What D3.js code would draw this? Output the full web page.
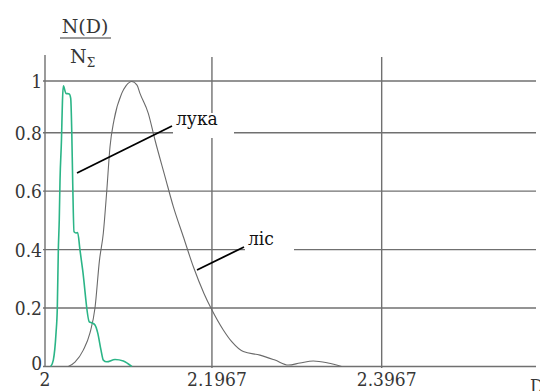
<!DOCTYPE html>
<html>
<head>
<meta charset="utf-8">
<script src="https://cdn.jsdelivr.net/npm/d3@7"></script>
<style>
  html, body { margin: 0; padding: 0; background: #fff; overflow: hidden; }
  svg { display: block; }
  .fc { font-family: "DejaVu Serif Condensed", "DejaVu Serif", serif; font-stretch: condensed; }
  .fs { font-family: "DejaVu Serif", serif; }
</style>
</head>
<body>
<svg id="chart" width="540" height="391"></svg>
<script>
// ---- data ----
const xTicks = [2, 2.1967, 2.3967];
const xTickLabels = ["2", "2.1967", "2.3967"];
const yTicks = [0, 0.2, 0.4, 0.6, 0.8, 1];
const yTickLabels = ["0", "0.2", "0.4", "0.6", "0.8", "1"];

// "лука" series (green)
const lukaD = [2.0067, 2.0098, 2.0130, 2.0145, 2.0157, 2.0168, 2.0177, 2.0194, 2.0206, 2.0216,
  2.0247, 2.0286, 2.0303, 2.0315, 2.0326, 2.0342, 2.0365, 2.0385, 2.0412, 2.0444,
  2.0522, 2.0554, 2.0589, 2.0621, 2.0660, 2.0687, 2.0727, 2.0825, 2.0923, 2.1022];
const lukaN = [0, 0.022, 0.115, 0.200, 0.399, 0.501, 0.638, 0.775, 0.926, 0.981,
  0.952, 0.950, 0.933, 0.809, 0.638, 0.461, 0.457, 0.458, 0.399, 0.330,
  0.153, 0.149, 0.142, 0.115, 0.056, 0.022, 0.016, 0.024, 0.019, 0];

// "ліс" series (gray)
const lisD = [2.0275, 2.0353, 2.0451, 2.0530, 2.0589, 2.0642, 2.0687, 2.0727, 2.0766, 2.0813,
  2.0904, 2.0954, 2.1022, 2.1084, 2.1119, 2.1217, 2.1296, 2.1414, 2.1512, 2.1630,
  2.1747, 2.1873, 2.1964, 2.2101, 2.2203, 2.2337, 2.2533, 2.2710, 2.2867, 2.3005,
  2.3161, 2.3335, 2.3496];
const lisN = [0, 0.015, 0.056, 0.115, 0.200, 0.364, 0.456, 0.598, 0.752, 0.849,
  0.952, 0.981, 0.998, 0.984, 0.952, 0.875, 0.775, 0.650, 0.547, 0.444,
  0.342, 0.250, 0.195, 0.125, 0.084, 0.051, 0.039, 0.022, 0.005, 0.012,
  0.019, 0.012, 0];

const seriesLabels = ["лука", "ліс"];

// ---- layout ----
const svg = d3.select("#chart");
const x = d3.scaleLinear().domain([2, 2.575]).range([45, 533]);
const y = d3.scaleLinear().domain([0, 0.8, 1]).range([366.5, 132.7, 81]);

const gridColor = "#707070";
const textColor = "#363636";

// horizontal gridlines
svg.append("g").selectAll("line").data(yTicks).join("line")
  .attr("x1", 43).attr("x2", 536)
  .attr("y1", d => y(d)).attr("y2", d => y(d))
  .attr("stroke", gridColor).attr("stroke-width", 1.4);

// vertical gridlines
svg.append("g").selectAll("line").data(xTicks.slice(1)).join("line")
  .attr("x1", d => x(d)).attr("x2", d => x(d))
  .attr("y1", 57).attr("y2", 368)
  .attr("stroke", gridColor).attr("stroke-width", 1.4);

// y axis line
svg.append("line").attr("x1", x(2)).attr("x2", x(2))
  .attr("y1", 55).attr("y2", y(0))
  .attr("stroke", gridColor).attr("stroke-width", 1.4);

// white boxes behind labels (gaps in grid)
svg.append("rect").attr("x", 173).attr("y", 113).attr("width", 61).attr("height", 25).attr("fill", "#fff");
svg.append("rect").attr("x", 245).attr("y", 228).attr("width", 49).attr("height", 28).attr("fill", "#fff");

// y tick labels
svg.append("g").selectAll("text").data(yTicks).join("text")
  .attr("class", "fc")
  .attr("x", 42)
  .attr("y", d => Math.min(y(d) + 7, 370))
  .attr("text-anchor", "end")
  .attr("font-size", 19).attr("fill", textColor)
  .text((d, i) => yTickLabels[i]);

// x tick labels
svg.append("g").selectAll("text").data(xTicks).join("text")
  .attr("class", "fc")
  .attr("x", (d, i) => x(d) + (i === 0 ? 0 : 5))
  .attr("y", 386)
  .attr("text-anchor", "middle")
  .attr("font-size", 19).attr("fill", textColor)
  .text((d, i) => xTickLabels[i]);

// x axis title (cut at edge, as in the reference)
svg.append("text").attr("class", "fc").attr("x", 530).attr("y", 393)
  .attr("font-size", 19).attr("fill", textColor)
  .text("D");

// y axis title: N(D) / NΣ
const yt = svg.append("g").attr("fill", textColor);
yt.append("text").attr("class", "fs").attr("x", 85).attr("y", 33).attr("text-anchor", "middle")
  .attr("font-size", 19).text("N(D)");
yt.append("line").attr("x1", 60).attr("x2", 111).attr("y1", 38).attr("y2", 38)
  .attr("stroke", textColor).attr("stroke-width", 1.2);
const nsig = yt.append("text").attr("class", "fs").attr("x", 70).attr("y", 63).attr("font-size", 19);
nsig.append("tspan").text("N");
nsig.append("tspan").attr("font-size", 12).attr("dy", 4).text("Σ");

// curves
const line = d3.line().x(d => x(d[0])).y(d => y(d[1])).curve(d3.curveMonotoneX);
svg.append("path").datum(lisD.map((d, i) => [d, lisN[i]]))
  .attr("d", line).attr("fill", "none").attr("stroke", "#6a6a6a").attr("stroke-width", 1.1);
svg.append("path").datum(lukaD.map((d, i) => [d, lukaN[i]]))
  .attr("d", line).attr("fill", "none").attr("stroke", "#2bb587").attr("stroke-width", 1.6);

// series labels with leader lines
svg.append("line").attr("x1", 77).attr("y1", 173).attr("x2", 172).attr("y2", 126)
  .attr("stroke", "#000").attr("stroke-width", 1.8);
svg.append("line").attr("x1", 197).attr("y1", 270).attr("x2", 244).attr("y2", 247)
  .attr("stroke", "#000").attr("stroke-width", 1.8);
svg.append("text").attr("class", "fc").attr("x", 176).attr("y", 125)
  .attr("font-size", 19).attr("fill", "#111").text(seriesLabels[0]);
svg.append("text").attr("class", "fc").attr("x", 248).attr("y", 245)
  .attr("font-size", 19).attr("fill", "#111").text(seriesLabels[1]);
</script>
</body>
</html>
